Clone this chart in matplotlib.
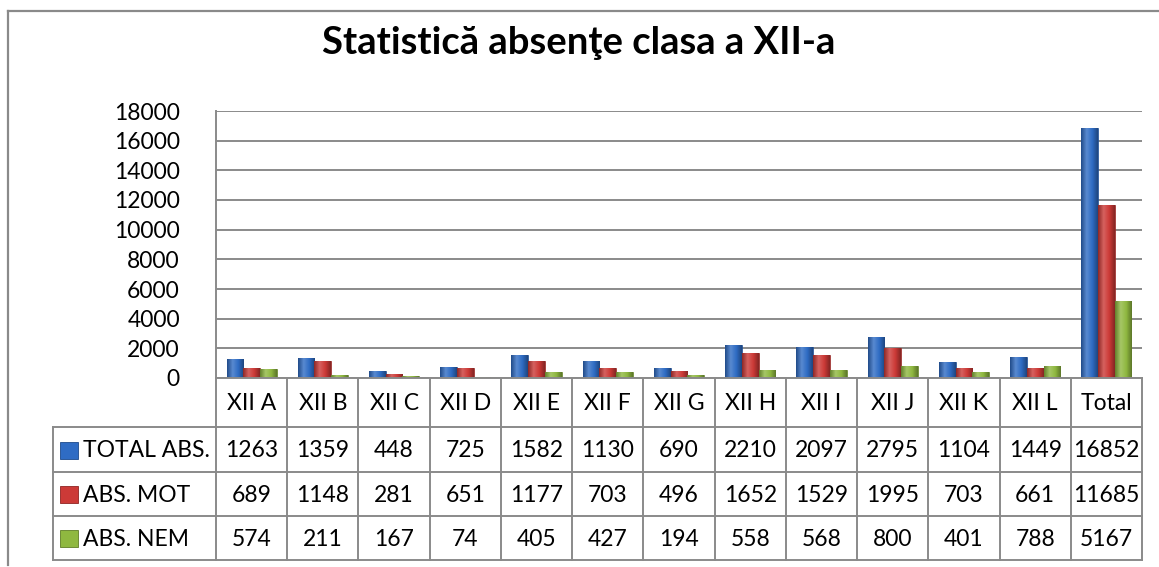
import matplotlib
matplotlib.use("Agg")
import matplotlib.pyplot as plt
import matplotlib.colors as mcolors
import numpy as np

plt.rcParams['font.family'] = ['Lato', 'DejaVu Sans']

classes = ['XII A', 'XII B', 'XII C', 'XII D', 'XII E', 'XII F', 'XII G',
           'XII H', 'XII I', 'XII J', 'XII K', 'XII L', 'Total']
total_abs = [1263, 1359, 448, 725, 1582, 1130, 690, 2210, 2097, 2795, 1104, 1449, 16852]
abs_mot = [689, 1148, 281, 651, 1177, 703, 496, 1652, 1529, 1995, 703, 661, 11685]
abs_nem = [574, 211, 167, 74, 405, 427, 194, 558, 568, 800, 401, 788, 5167]
series_names = ['TOTAL ABS.', 'ABS. MOT', 'ABS. NEM']
series = [total_abs, abs_mot, abs_nem]
colors = ['#2f6cc4', '#cc3a37', '#8fb840']
edges = ['#1d4a8c', '#8f2422', '#5f7d26']
yticks = np.arange(0, 18001, 2000)


def shade(c, f):
    rgb = np.array(mcolors.to_rgb(c))
    if f > 0:
        return tuple(rgb + (1 - rgb) * f)
    return tuple(rgb * (1 + f))


def gradient_cmap(c):
    # dark edge -> light centre -> dark edge, like the rounded excel bars
    return mcolors.LinearSegmentedColormap.from_list(
        'g', [shade(c, -0.3), shade(c, 0.2), c, shade(c, -0.35)])


W, H = 1159, 567
fig = plt.figure(figsize=(W / 100, H / 100), dpi=100)

px_left, px_right, px_top, px_bot = 216, 1142, 111, 378
ax = fig.add_axes([px_left / W, 1 - px_bot / H, (px_right - px_left) / W, (px_bot - px_top) / H])

n = len(classes)
x = np.arange(n)
bw = 0.235
grad = np.linspace(0, 1, 64).reshape(1, -1)
for k, (vals, c, e) in enumerate(zip(series, colors, edges)):
    bars = ax.bar(x + (k - 1) * bw, vals, width=bw, color=c, edgecolor=e, linewidth=0.5, zorder=3)
    cm = gradient_cmap(c)
    for b in bars:
        bx, by = b.get_x(), b.get_y()
        im = ax.imshow(grad, cmap=cm, aspect='auto', zorder=3.5,
                       extent=(bx, bx + b.get_width(), by, by + b.get_height()))
        im.set_clip_path(b)

ax.set_xlim(-0.5, n - 0.5)
ax.set_ylim(0, 18000)
ax.set_yticks(yticks)
ax.set_yticklabels([str(v) for v in yticks], fontsize=16.5)
ax.tick_params(axis='y', length=0, pad=26)
ax.set_xticks([])
ax.grid(axis='y', color='#8a8a8a', linewidth=1.4, zorder=0)
for s in ['top', 'right', 'bottom']:
    ax.spines[s].set_visible(False)
ax.spines['left'].set_color('#8a8a8a')
ax.spines['left'].set_linewidth(1.4)

# overlay axes in pixel coordinates for frame, title and table
ov = fig.add_axes([0, 0, 1, 1], facecolor='none')
ov.set_xlim(0, W)
ov.set_ylim(H, 0)
ov.axis('off')

lc = '#8a8a8a'
ov.plot([8, 8], [11, 565], color=lc, lw=1.6)
ov.plot([8, W], [11, 11], color=lc, lw=1.6)

ov.text(579, 43, 'Statistică absenţe clasa a XII-a', fontsize=27.5, fontweight='bold',
        ha='center', va='center')

# data table
col_w = (px_right - px_left) / n
rows_y = [378, 427, 472, 516, 560]
tab_left = 53
ov.plot([px_left, px_right], [rows_y[0], rows_y[0]], color=lc, lw=1.4)
for yy in rows_y[1:]:
    ov.plot([tab_left, px_right], [yy, yy], color=lc, lw=1.4)
ov.plot([tab_left, tab_left], [rows_y[1], rows_y[-1]], color=lc, lw=1.4)
for i in range(n + 1):
    xx = px_left + i * col_w
    ov.plot([xx, xx], [rows_y[0], rows_y[-1]], color=lc, lw=1.4)

for i, name in enumerate(classes):
    cx = px_left + (i + 0.5) * col_w
    ov.text(cx, (rows_y[0] + rows_y[1]) / 2 + 1, name, fontsize=16.5, ha='center', va='center')
    for r, vals in enumerate(series):
        cy = (rows_y[r + 1] + rows_y[r + 2]) / 2 + 1
        ov.text(cx, cy, str(vals[i]), fontsize=16.5, ha='center', va='center')

for r, (name, c, e) in enumerate(zip(series_names, colors, edges)):
    cy = (rows_y[r + 1] + rows_y[r + 2]) / 2
    ov.add_patch(plt.Rectangle((60, cy - 8), 18, 17, facecolor=c, edgecolor=e, lw=0.6))
    ov.text(83, cy + 1, name, fontsize=16.5, ha='left', va='center')

fig.savefig('out.png', dpi=100)
